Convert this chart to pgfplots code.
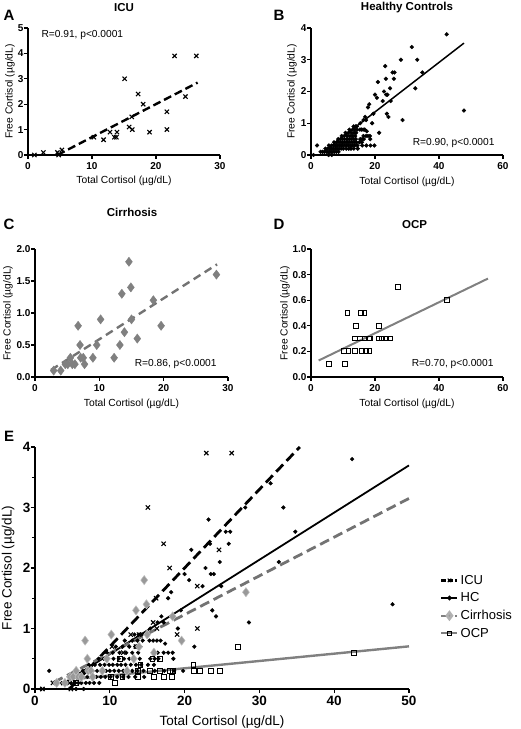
\documentclass[border=0pt]{standalone}
\usepackage{fontspec}
\setmainfont{Liberation Sans}
\usepackage{pgfplots}
\pgfplotsset{compat=1.18}
\usepackage{pgfplotstable}

% total cortisol (x) vs free cortisol (y), ug/dL
\pgfplotstableread{
x y
1.0 0
2.4 0.1
4.6 0.1
4.8 0.0
5.3 0.2
10.3 0.7
11.8 0.6
12.8 0.9
13.5 0.7
13.8 0.7
13.9 0.9
15.1 3.0
15.8 1.1
16.2 1.5
16.3 1.0
17.2 2.4
18.0 2.0
19.0 0.9
21.7 1.7
21.7 1.0
22.9 3.9
24.6 2.3
26.3 3.9
}\icu

\pgfplotstableread{
x y
0.8 0
1.9 0.3
3.0 0.1
3.6 0.1
4.2 0.1
4.8 0.1
5.3 0.1
5.8 0.1
6.2 0.1
6.8 0.1
7.3 0.1
7.9 0.1
8.6 0.1
5.5 0.0
6.5 0.0
4.5 0.2
5.2 0.2
5.9 0.2
6.4 0.2
7.0 0.2
7.6 0.2
8.2 0.2
8.8 0.2
9.4 0.2
10.1 0.2
11.0 0.2
11.8 0.2
12.5 0.2
13.4 0.2
14.6 0.2
5.6 0.3
6.4 0.3
7.1 0.3
7.7 0.3
8.3 0.3
8.9 0.3
9.5 0.3
10.0 0.3
10.6 0.3
11.2 0.3
11.8 0.3
12.4 0.3
13.0 0.3
13.7 0.3
14.5 0.3
16.0 0.3
17.3 0.3
18.6 0.3
19.8 0.3
7.2 0.4
8.0 0.4
8.7 0.4
9.3 0.4
9.9 0.4
10.4 0.4
11.0 0.4
11.5 0.4
12.1 0.4
12.8 0.4
13.5 0.4
14.2 0.4
15.1 0.4
15.9 0.4
8.5 0.5
9.2 0.5
9.8 0.5
10.5 0.5
11.2 0.5
11.9 0.5
12.6 0.5
13.3 0.5
14.0 0.5
15.4 0.5
16.0 0.5
16.5 0.5
18.5 0.5
9.6 0.6
10.4 0.6
11.3 0.6
12.2 0.6
13.0 0.6
13.8 0.6
16.4 0.6
17.2 0.6
17.8 0.6
18.4 0.6
10.8 0.7
11.7 0.7
12.6 0.7
13.4 0.7
14.1 0.7
21.3 0.7
17.4 0.75
12.0 0.8
13.0 0.8
13.7 0.8
14.4 0.8
15.3 0.8
15.8 0.8
16.3 0.8
16.8 0.8
13.3 0.9
13.9 0.9
14.3 0.9
15.4 1.0
19.1 1.0
16.4 1.1
17.2 1.1
28.6 1.1
16.9 1.2
24.2 1.2
19.5 1.3
23.7 1.3
17.8 1.5
18.2 1.6
22.4 1.7
24.9 1.7
20.6 1.8
20.0 1.9
23.5 1.9
23.9 1.9
22.8 2.0
24.7 2.1
32.6 2.1
20.9 2.3
23.4 2.4
25.9 2.4
25.5 2.6
26.1 2.6
34.8 2.6
23.2 2.8
28.1 3.0
33.2 3.0
31.5 3.4
42.4 3.8
47.8 1.4
}\hc

\pgfplotstableread{
x y
2.9 0.1
4.0 0.1
4.7 0.2
5.1 0.2
5.5 0.3
5.8 0.2
6.2 0.2
6.7 0.8
7.0 0.5
7.1 0.3
7.5 0.3
7.7 0.2
9.0 0.3
9.6 0.5
10.2 0.9
12.3 0.3
13.2 0.5
13.5 1.3
13.9 0.7
14.6 1.8
14.9 1.4
15.0 0.9
15.9 0.6
18.4 1.2
19.6 0.8
28.2 1.6
}\cirr

\pgfplotstableread{
x y
5.5 0.1
10.7 0.1
10.2 0.2
11.7 0.2
13.8 0.2
11.4 0.5
14.1 0.4
13.8 0.3
15.4 0.3
15.7 0.5
16.7 0.5
15.9 0.2
17.2 0.2
18.3 0.2
16.7 0.3
18.0 0.3
18.5 0.3
21.2 0.4
21.3 0.3
22.1 0.3
23.5 0.3
24.7 0.3
27.1 0.7
42.6 0.6
}\ocp

\tikzset{
  letter/.style={font=\bfseries\fontsize{15}{17}\selectfont},
  rtext/.style={font=\fontsize{10.2}{12}\selectfont},
}

\pgfplotsset{
  panel/.style={
    scale only axis, clip=false,
    axis x line=bottom, axis y line=left,
    axis line style={-, line width=1.6pt},
    every tick/.style={black, line width=1.3pt},
    tick align=outside, major tick length=4pt, minor tick length=3pt,
    /pgf/number format/assume math mode=true,
    ticklabel style={font=\bfseries\fontsize{10}{12}\selectfont},
    yticklabel style={xshift=3pt},
    label style={font=\fontsize{10.3}{12}\selectfont},
    every axis title/.style={font=\bfseries\fontsize{11.5}{13}\selectfont, anchor=center},
    xlabel={Total Cortisol (µg/dL)},
    ylabel={Free Cortisol (µg/dL)},
    ymin=0, xmin=0,
  },
  icumark/.style={only marks, mark=x, mark size=3pt, black, mark options={line width=1.1pt}},
  hcmark/.style={only marks, mark=*, mark size=1.9pt, black},
  cirmark/.style={only marks, mark=diamond*, mark size=4.6pt, draw=black!50, fill=black!50},
  ocpmark/.style={only marks, mark=square, mark size=2.4pt, black, mark options={fill=white, line width=1pt}},
}

\begin{document}
\begin{tikzpicture}
\path[use as bounding box] (0,0) rectangle (520pt,729pt);

% A: ICU
\begin{axis}[panel, at={(28pt,574pt)}, anchor=south west,
  width=192pt, height=127pt, xmax=30, ymax=5,
  xtick={0,10,20,30}, ytick={0,1,2,3,4,5},
  title=ICU, title style={at={(axis description cs:0.5,1.16)}},
  xlabel style={at={(axis description cs:0.5,-0.205)}, anchor=center},
  ylabel style={at={(axis description cs:-0.094,0.5)}, anchor=center}]
  \addplot[icumark] table {\icu};
  \addplot[black, line width=2.4pt, dash pattern=on 8pt off 4pt] coordinates {(4.6,0) (26.5,2.85)};
  \node[letter] at (axis description cs:-0.099,1.102) {A};
  \node[rtext, anchor=west] at (axis description cs:0.052,0.945) {R=0.91, p<0.0001};
\end{axis}

% B: Healthy controls
\begin{axis}[panel, at={(311pt,574pt)}, anchor=south west,
  width=192pt, height=127pt, xmax=60, ymax=4,
  xtick={0,20,40,60}, ytick={0,1,2,3,4},
  title=Healthy Controls, title style={at={(axis description cs:0.5,1.16)}},
  xlabel style={at={(axis description cs:0.5,-0.213)}, anchor=center},
  ylabel style={at={(axis description cs:-0.099,0.5)}, anchor=center}]
  \addplot[hcmark] table {\hc};
  \addplot[black, line width=1.5pt] coordinates {(3.5,0.069) (47.8,3.524)};
  \node[letter] at (axis description cs:-0.167,1.098) {B};
  \node[rtext, anchor=east] at (axis description cs:0.974,0.094) {R=0.90, p<0.0001};
\end{axis}

% C: Cirrhosis
\begin{axis}[panel, at={(35pt,352pt)}, anchor=south west,
  width=193pt, height=128pt, xmax=30, ymax=2,
  xtick={0,10,20,30}, ytick={0,0.5,1,1.5,2},
  yticklabel style={/pgf/number format/.cd, fixed, fixed zerofill, precision=1},
  title=Cirrhosis, title style={at={(axis description cs:0.503,1.289)}},
  xlabel style={at={(axis description cs:0.5,-0.211)}, anchor=center},
  ylabel style={at={(axis description cs:-0.14,0.5)}, anchor=center}]
  \addplot[cirmark] table {\cirr};
  \addplot[black!55, line width=2.4pt, dash pattern=on 8pt off 5pt] coordinates {(2.5,0.11) (28.3,1.76)};
  \node[letter] at (axis description cs:-0.135,1.195) {C};
  \node[rtext, anchor=east] at (axis description cs:0.959,0.10) {R=0.86, p<0.0001};
\end{axis}

% D: OCP
\begin{axis}[panel, at={(311pt,352pt)}, anchor=south west,
  width=192pt, height=128pt, xmax=60, ymax=1,
  xtick={0,20,40,60}, ytick={0,0.2,0.4,0.6,0.8,1.0},
  yticklabel style={/pgf/number format/.cd, fixed, fixed zerofill, precision=1},
  title=OCP, title style={at={(axis description cs:0.54,1.1875)}},
  xlabel style={at={(axis description cs:0.5,-0.211)}, anchor=center},
  ylabel style={at={(axis description cs:-0.135,0.5)}, anchor=center}]
  \addplot[ocpmark] table {\ocp};
  \addplot[black!50, line width=2pt] coordinates {(2.4,0.129) (55.3,0.769)};
  \node[letter] at (axis description cs:-0.167,1.191) {D};
  \node[rtext, anchor=east] at (axis description cs:0.969,0.10) {R=0.70, p<0.0001};
\end{axis}

% E: all groups
\begin{axis}[panel, at={(35pt,40pt)}, anchor=south west,
  width=374pt, height=242pt, xmax=50, ymax=4,
  xtick={0,10,20,30,40,50}, ytick={0,1,2,3,4}, minor ytick={0.5,1.5,2.5,3.5},
  ticklabel style={font=\bfseries\fontsize{13.5}{15}\selectfont},
  label style={font=\fontsize{13.5}{15}\selectfont},
  xlabel style={at={(axis description cs:0.5,-0.136)}, anchor=center},
  ylabel style={at={(axis description cs:-0.072,0.5)}, anchor=center},
  legend style={at={(axis description cs:1.075,0.488)}, anchor=north west,
    draw=none, fill=none, font=\fontsize{13}{15}\selectfont, row sep=3pt},
  legend cell align=left,
  legend image code/.code={\draw[mark repeat=2, mark phase=2] plot coordinates {(0pt,0pt) (8pt,0pt) (16pt,0pt)};}]
  \addlegendimage{black, line width=2.4pt, dash pattern=on 5pt off 2pt, mark=x, mark size=2.5pt, mark options={solid, line width=1pt}}
  \addlegendentry{ICU}
  \addlegendimage{black, line width=1.5pt, mark=*, mark size=1.6pt}
  \addlegendentry{HC}
  \addlegendimage{black!50, line width=2.4pt, dash pattern=on 5pt off 2pt, mark=diamond*, mark size=3.5pt, mark options={solid, fill=black!40, draw=black!30}}
  \addlegendentry{Cirrhosis}
  \addlegendimage{black!50, line width=2pt, mark=square, mark size=2.2pt, mark options={solid, draw=black, fill=white, line width=0.9pt}}
  \addlegendentry{OCP}
  \addplot[hcmark, forget plot] table {\hc};
  \addplot[icumark, forget plot] table {\icu};
  \addplot[cirmark, draw=black!25, fill=black!40, mark options={line width=0.5pt}, forget plot] table {\cirr};
  \addplot[ocpmark, forget plot] table {\ocp};
  \addplot[black, line width=2.8pt, dash pattern=on 10pt off 5pt, forget plot] coordinates {(4.6,0) (35.4,4.0)};
  \addplot[black, line width=1.8pt, forget plot] coordinates {(3.5,0.069) (50,3.696)};
  \addplot[black!55, line width=2.8pt, dash pattern=on 10pt off 5pt, forget plot] coordinates {(2.5,0.11) (50,3.15)};
  \addplot[black!50, line width=2.4pt, forget plot] coordinates {(5.5,0.167) (50,0.705)};
  \node[letter] at (axis description cs:-0.0695,1.045) {E};
\end{axis}
\end{tikzpicture}
\end{document}
